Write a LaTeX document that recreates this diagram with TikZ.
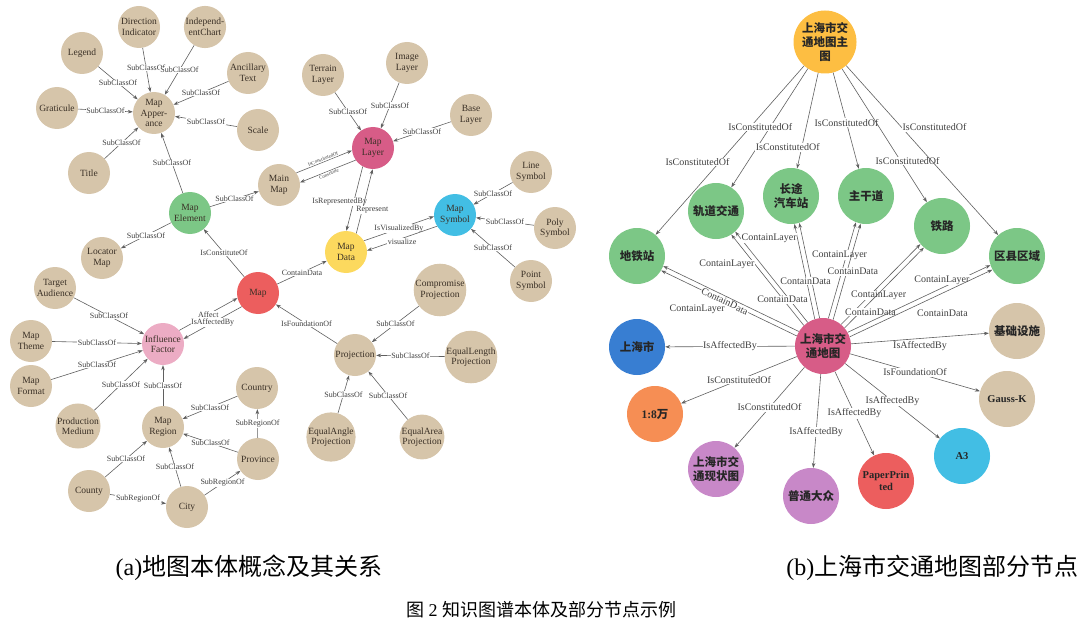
\documentclass[tikz,border=0pt]{standalone}
\usepackage{fontspec}
\setmainfont{Liberation Serif}
\newfontfamily\cjk{Noto Sans CJK SC}
\usepackage{xcolor}
\usetikzlibrary{arrows.meta}
\definecolor{tanc}{RGB}{214,197,170}
\definecolor{greenc}{RGB}{124,199,134}
\definecolor{rosec}{RGB}{215,92,135}
\definecolor{cyanc}{RGB}{66,190,228}
\definecolor{yellowc}{RGB}{252,217,94}
\definecolor{redc}{RGB}{236,94,94}
\definecolor{pinkc}{RGB}{236,172,196}
\definecolor{orangec}{RGB}{253,190,66}
\definecolor{bluec}{RGB}{56,126,210}
\definecolor{peachc}{RGB}{246,142,84}
\definecolor{purplec}{RGB}{200,136,200}
\definecolor{linkc}{RGB}{95,95,95}
\definecolor{inkc}{RGB}{58,48,38}
\tikzset{
    cnode/.style = {align=center, inner sep=0pt, text centered, circle, minimum size=42pt, text=inkc, font=\fontsize{9.5}{10.5}\selectfont},
    tan_node/.style = {cnode, fill=tanc},
    green_node/.style = {cnode, fill=greenc},
    rose_node/.style = {cnode, fill=rosec},
    cyan_node/.style = {cnode, fill=cyanc},
    yellow_node/.style = {cnode, fill=yellowc},
    red_node/.style = {cnode, fill=redc},
    pink_node/.style = {cnode, fill=pinkc},
    bnode/.style = {align=center, inner sep=0pt, text centered, circle, minimum size=56pt, text=black!85, font=\cjk\bfseries\fontsize{11.5}{14}\selectfont},
    latin/.style = {font=\rmfamily\bfseries\fontsize{10.5}{12}\selectfont},
    sublabel/.style = {fill=white, inner sep=0.6pt, text=black!75, font=\fontsize{8}{8}\selectfont},
    tinylabel/.style = {sublabel, font=\fontsize{5}{5}\selectfont},
    rlabel/.style = {fill=white, inner sep=0.6pt, text=black!75, font=\fontsize{10}{10}\selectfont},
    link/.style = {->, draw=linkc, line width=0.6pt}
}
\begin{document}
\begin{tikzpicture}[x=1pt, y=-1pt, >={Stealth[length=5pt, width=3.6pt]}]
\useasboundingbox (0,0) rectangle (1083,631);

\node [tan_node] (leg) at (82,53) {Legend};
\node [tan_node] (dir) at (139,27) {Direction\\Indicator};
\node [tan_node] (ind) at (205,27) {Independ-\\entChart};
\node [tan_node] (anc) at (248,73) {Ancillary\\Text};
\node [tan_node] (grat) at (57,108) {Graticule};
\node [tan_node] (app) at (154,113) {Map\\Apper-\\ance};
\node [tan_node] (scl) at (258,130) {Scale};
\node [tan_node] (title) at (89,173) {Title};
\node [tan_node] (terr) at (323,75) {Terrain\\Layer};
\node [tan_node] (img) at (407,63) {Image\\Layer};
\node [tan_node] (base) at (471,115) {Base\\Layer};
\node [rose_node] (mlayer) at (373,148) {Map\\Layer};
\node [tan_node] (mainmap) at (279,185) {Main\\Map};
\node [green_node] (elem) at (190,213) {Map\\Element};
\node [tan_node] (lsym) at (531,172) {Line\\Symbol};
\node [cyan_node] (msym) at (455,215) {Map\\Symbol};
\node [tan_node] (psym) at (555,228) {Poly\\Symbol};
\node [tan_node] (ptsym) at (531,281) {Point\\Symbol};
\node [yellow_node] (mdata) at (346,252) {Map\\Data};
\node [tan_node] (loc) at (102,258) {Locator\\Map};
\node [tan_node] (target) at (55,288) {Target\\Audience};
\node [red_node] (map) at (258,293) {Map};
\node [tan_node] (comp) at (440,290) {Compromise\\Projection};
\node [tan_node] (theme) at (31,341) {Map\\Theme};
\node [pink_node] (infl) at (163,344) {Influence\\Factor};
\node [tan_node] (proj) at (355,355) {Projection};
\node [tan_node] (elen) at (471,357) {EqualLength\\Projection};
\node [tan_node] (format) at (31,386) {Map\\Format};
\node [tan_node] (country) at (257,388) {Country};
\node [tan_node] (prod) at (78,426) {Production\\Medium};
\node [tan_node] (region) at (163,427) {Map\\Region};
\node [tan_node] (eangle) at (331,437) {EqualAngle\\Projection};
\node [tan_node] (earea) at (422,437) {EqualArea\\Projection};
\node [tan_node] (prov) at (258,459) {Province};
\node [tan_node] (county) at (89,491) {County};
\node [tan_node] (city) at (187,507) {City};

\draw [link] (leg) -- node [sublabel] {SubClassOf} (app);
\draw [link] (dir) -- node [sublabel, pos=0.45] {SubClassOf} (app);
\draw [link] (ind) -- node [sublabel] {SubClassOf} (app);
\draw [link] (anc) -- node [sublabel] {SubClassOf} (app);
\draw [link] (grat) -- node [sublabel] {SubClassOf} (app);
\draw [link] (scl) -- node [sublabel] {SubClassOf} (app);
\draw [link] (title) -- node [sublabel] {SubClassOf} (app);
\draw [link] (elem) -- node [sublabel] {SubClassOf} (app);
\draw [link] (elem) -- node [sublabel] {SubClassOf} (mainmap);
\draw [link] (elem) -- node [sublabel] {SubClassOf} (loc);
\draw [link] (terr) -- node [sublabel] {SubClassOf} (mlayer);
\draw [link] (img) -- node [sublabel] {SubClassOf} (mlayer);
\draw [link] (base) -- node [sublabel] {SubClassOf} (mlayer);
\draw [link] (mainmap.35.5) -- node [tinylabel, sloped, above=0.3pt] {IsConstitutedOf} (mlayer.187.5);
\draw [link] (mlayer.215.5) -- node [tinylabel, sloped, below=0.3pt] {Constitute} (mainmap.7.5);
\draw [link] (mlayer.241.4) -- node [sublabel, pos=0.55, xshift=-14pt] {IsRepresentedBy} (mdata.89.4);
\draw [link] (mdata.61.4) -- node [sublabel, pos=0.365, xshift=10pt] {Represent} (mlayer.269.4);
\draw [link] (mdata.32.7) -- node [sublabel] {IsVisualizedBy} (msym.184.7);
\draw [link] (msym.212.7) -- node [sublabel, yshift=-3pt] {visualize} (mdata.4.7);
\draw [link] (lsym) -- node [sublabel] {SubClassOf} (msym);
\draw [link] (psym) -- node [sublabel] {SubClassOf} (msym);
\draw [link] (ptsym) -- node [sublabel] {SubClassOf} (msym);
\draw [link] (map) -- node [sublabel] {IsConstituteOf} (elem);
\draw [link] (map) -- node [sublabel] {ContainData} (mdata);
\draw [link] (infl.40.8) -- node [sublabel] {Affect} (map.194.8);
\draw [link] (map.220.8) -- node [sublabel] {IsAffectedBy} (infl.14.8);
\draw [link] (proj) -- node [sublabel] {IsFoundationOf} (map);
\draw [link] (comp) -- node [sublabel] {SubClassOf} (proj);
\draw [link] (elen) -- node [sublabel] {SubClassOf} (proj);
\draw [link] (eangle) -- node [sublabel] {SubClassOf} (proj);
\draw [link] (earea) -- node [sublabel] {SubClassOf} (proj);
\draw [link] (target) -- node [sublabel] {SubClassOf} (infl);
\draw [link] (theme) -- node [sublabel] {SubClassOf} (infl);
\draw [link] (format) -- node [sublabel] {SubClassOf} (infl);
\draw [link] (prod) -- node [sublabel] {SubClassOf} (infl);
\draw [link] (region) -- node [sublabel] {SubClassOf} (infl);
\draw [link] (country) -- node [sublabel] {SubClassOf} (region);
\draw [link] (prov) -- node [sublabel] {SubClassOf} (region);
\draw [link] (prov) -- node [sublabel] {SubRegionOf} (country);
\draw [link] (county) -- node [sublabel] {SubClassOf} (region);
\draw [link] (city) -- node [sublabel] {SubClassOf} (region);
\draw [link] (county) -- node [sublabel] {SubRegionOf} (city);
\draw [link] (city) -- node [sublabel] {SubRegionOf} (prov);

\node [bnode, fill=orangec, minimum size=63pt] (top) at (825,42) {上海市交\\通地图主\\图};
\node [bnode, fill=greenc] (dtz) at (637,256) {地铁站};
\node [bnode, fill=greenc] (gdjt) at (716,211) {轨道交通};
\node [bnode, fill=greenc] (ctqc) at (791,196) {长途\\汽车站};
\node [bnode, fill=greenc] (zgd) at (866,196) {主干道};
\node [bnode, fill=greenc] (tl) at (942,226) {铁路};
\node [bnode, fill=greenc] (qxqy) at (1017,256) {区县区域};
\node [bnode, fill=rosec] (ctr) at (823,346) {上海市交\\通地图};
\node [bnode, fill=bluec] (shs) at (637,347) {上海市};
\node [bnode, fill=tanc] (jcss) at (1017,331) {基础设施};
\node [bnode, fill=peachc] (wan) at (655,414) {{\rmfamily 1:8}万};
\node [bnode, latin, fill=tanc] (gauss) at (1007,399) {Gauss-K};
\node [bnode, fill=purplec] (xzt) at (716,469) {上海市交\\通现状图};
\node [bnode, fill=purplec] (ptdz) at (811,496) {普通大众};
\node [bnode, latin, fill=redc] (paper) at (886,481) {PaperPrin\\ted};
\node [bnode, latin, fill=cyanc] (a3) at (962,456) {A3};

\draw [link] (top) -- node [rlabel, pos=0.57, xshift=-22pt] {IsConstitutedOf} (dtz);
\draw [link] (top) -- node [rlabel, pos=0.49, xshift=-10pt] {IsConstitutedOf} (gdjt);
\draw [link] (top) -- node [rlabel, pos=0.78, xshift=-14pt] {IsConstitutedOf} (ctqc);
\draw [link] (top) -- node [rlabel, pos=0.52] {IsConstitutedOf} (zgd);
\draw [link] (top) -- node [rlabel, pos=0.69, xshift=7pt] {IsConstitutedOf} (tl);
\draw [link] (top) -- node [rlabel, pos=0.365, anchor=west] {IsConstitutedOf} (qxqy);

\draw [link] (ctr.159.2) -- node [rlabel, sloped, pos=0.53] {ContainData} (dtz.329.2);
\draw [link] (ctr.149.2) -- node [rlabel, pos=0.75, yshift=-27pt] {ContainLayer} (dtz.339.2);
\draw [link] (ctr.133.4) -- node [rlabel, pos=0.67, anchor=east] {ContainLayer} (gdjt.303.4);
\draw [link] (ctr.123.4) -- node [rlabel, pos=0.25, xshift=-7pt] {ContainData} (gdjt.313.4);
\draw [link] (ctr.107) -- node [rlabel, pos=0.85, anchor=east] {ContainLayer} (ctqc.277);
\draw [link] (ctr.97) -- node [rlabel, pos=0.39, xshift=-6pt] {ContainData} (ctqc.287);
\draw [link] (ctr.79) -- node [rlabel, pos=0.66, xshift=-7pt] {ContainLayer} (zgd.249);
\draw [link] (ctr.69) -- node [rlabel, pos=0.5, xshift=6pt] {ContainData} (zgd.259);
\draw [link] (ctr.50.2) -- node [rlabel, pos=0.36, xshift=9pt] {ContainLayer} (tl.220.2);
\draw [link] (ctr.40.2) -- node [rlabel, pos=0.2, xshift=10pt] {ContainData} (tl.230.2);
\draw [link] (ctr.29.9) -- node [rlabel, pos=0.66, yshift=8pt] {ContainLayer} (qxqy.199.9);
\draw [link] (ctr.19.9) -- node [rlabel, pos=0.65, yshift=-20pt] {ContainData} (qxqy.209.9);

\draw [link] (ctr) -- node [rlabel] {IsAffectedBy} (shs);
\draw [link] (ctr) -- node [rlabel, yshift=-8pt] {IsAffectedBy} (jcss);
\draw [link] (ctr) -- node [rlabel] {IsConstitutedOf} (wan);
\draw [link] (ctr) -- node [rlabel] {IsFoundationOf} (gauss);
\draw [link] (ctr) -- node [rlabel] {IsConstitutedOf} (xzt);
\draw [link] (ctr) -- node [rlabel, pos=0.62] {IsAffectedBy} (ptdz);
\draw [link] (ctr) -- node [rlabel] {IsAffectedBy} (paper);
\draw [link] (ctr) -- node [rlabel] {IsAffectedBy} (a3);

\node [font=\fontsize{24}{24}\selectfont] (capa) at (249,568) {(a){\cjk 地图本体概念及其关系}};
\node [font=\fontsize{24}{24}\selectfont, anchor=east] (capb) at (1082,568) {(b){\cjk 上海市交通地图部分节点}};
\node [font=\fontsize{18}{18}\selectfont] (capfig) at (541,610) {{\cjk 图} 2 {\cjk 知识图谱本体及部分节点示例}};
\end{tikzpicture}
\end{document}
